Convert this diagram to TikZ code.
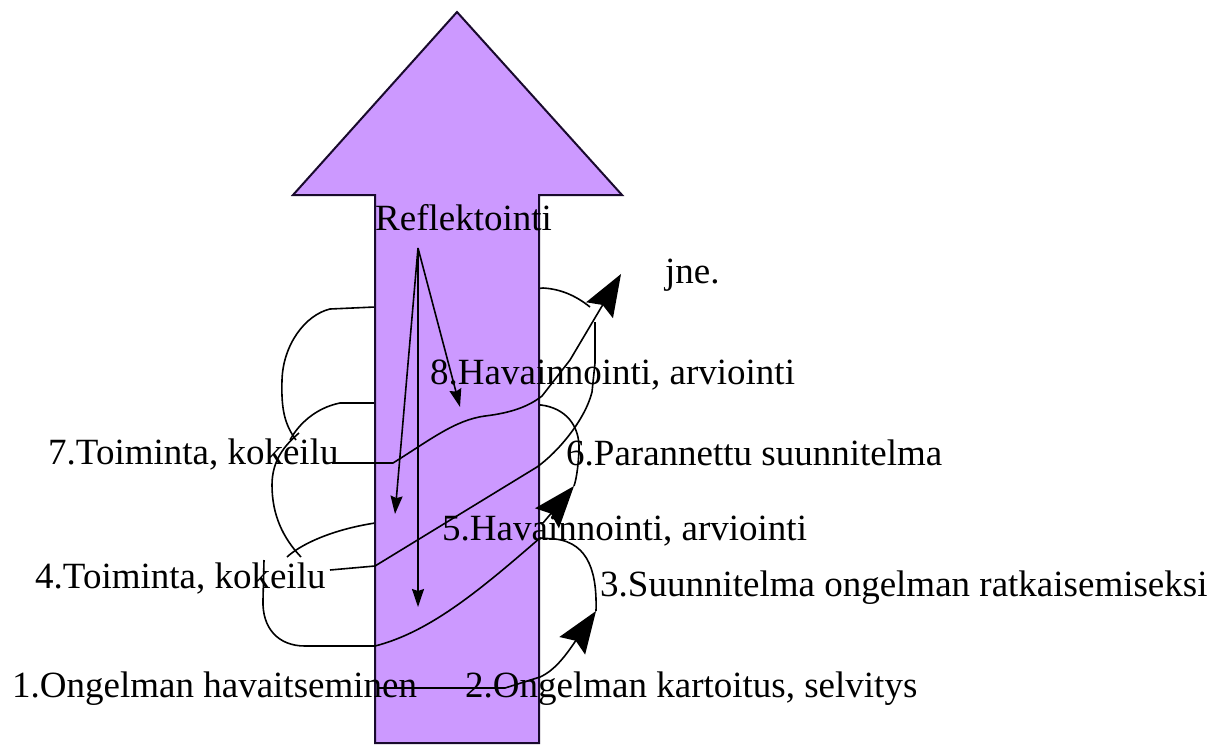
\documentclass[tikz,border=0pt]{standalone}
\usepackage{fontspec}
\setmainfont{Liberation Serif}
\usetikzlibrary{arrows.meta}
\definecolor{arrowfill}{RGB}{204,153,255}
\definecolor{shapeline}{RGB}{25,10,45}
\begin{document}
\begin{tikzpicture}[x=1pt,y=-1pt,
  lbl/.style={anchor=base west,inner sep=0pt,font=\fontsize{37}{40}\selectfont},
  conn/.style={line width=1.6pt,draw=black},
  bigtip/.style={-{Stealth[length=42pt,width=31pt,inset=6pt]}},
  smalltip/.style={-{Stealth[length=18pt,width=12pt,inset=2pt]}},
  bigarrow/.style={draw=shapeline,line width=2pt,fill=arrowfill,line join=miter}]
\fill[white] (0,0) rectangle (1222,747);
\useasboundingbox (0,0) rectangle (1222,747);

% ---------- named points of the connectors ----------
\coordinate (apex) at (418,248);
\coordinate (r8) at (460,407);
\coordinate (r7) at (395,514);
\coordinate (r4) at (418,607);
\coordinate (s1) at (378,688);
\coordinate (a3) at (596,611);
\coordinate (e4) at (264,560);
\coordinate (s4) at (330,570);
\coordinate (a1base) at (595,322);
\coordinate (s7) at (332,463);
\coordinate (a1) at (621,274);
\coordinate (k7a) at (290,440);
\coordinate (k7b) at (296,440);
\coordinate (k7c) at (299,433);
\coordinate (k4a) at (301,557);
\coordinate (k4b) at (287,557);
\coordinate (a2base) at (543,523);
\coordinate (a2) at (574,486);
\coordinate (bl) at (590,307);

% ---------- connectors partly hidden behind the shaft ----------
\draw[conn] (k7b) .. controls (285,425) and (281,410) .. (282,380)
  .. controls (283,345) and (305,315) .. (330,309) -- (375,307) -- (543,288)
  .. controls (560,289) and (575,295) .. (bl);
\draw[conn] (k7a) .. controls (298,425) and (315,408) .. (340,403) -- (375,403) -- (541,405)
  .. controls (565,408) and (580,425) .. (579,450)
  .. controls (578,470) and (576,480) .. (a2);
\draw[conn] (k4b) .. controls (300,545) and (330,530) .. (375,523) -- (a2base);

% ---------- the big arrow ----------
\path[bigarrow] (375,743) -- (375,195) -- (293,195) -- (457,12) -- (622,195)
  -- (539,195) -- (539,743) -- cycle;

% ---------- visible connectors ----------
\draw[conn,bigtip] (s1) -- (505,688) -- (540,677)
  .. controls (556,670) and (568,652) .. (a3);
\draw[conn] (a3) .. controls (597,575) and (590,543) .. (555,539) -- (540,538)
  .. controls (480,590) and (430,632) .. (375,646) -- (305,646)
  .. controls (278,646) and (262,628) .. (263,600) -- (e4);
\draw[conn] (s4) -- (375,566) -- (537,467)
  .. controls (558,452) and (585,420) .. (592,392) -- (595,363) -- (a1base);
\draw[conn,bigtip] (s7) -- (393,463) .. controls (430,440) and (455,420) .. (485,416)
  .. controls (510,413) and (528,407) .. (542,396) -- (570,360) -- (a1);
\draw[conn] (k7c) .. controls (285,445) and (272,460) .. (272,485)
  .. controls (272,515) and (283,538) .. (k4a);
\draw[conn,bigtip] (a2base) -- (a2);
\draw[conn,smalltip] (apex) -- (r8);
\draw[conn,smalltip] (apex) -- (r7);
\draw[conn,smalltip] (apex) -- (r4);

% ---------- labels ----------
\node[lbl] (refl) at (375,230) {Reflektointi};
\node[lbl] (jne) at (665,283) {jne.};
\node[lbl] (l8) at (430,384) {8.Havainnointi, arviointi};
\node[lbl] (l7) at (48,464) {7.Toiminta, kokeilu};
\node[lbl] (l6) at (566,465) {6.Parannettu suunnitelma};
\node[lbl] (l5) at (442,540) {5.Havainnointi, arviointi};
\node[lbl] (l4) at (35,588) {4.Toiminta, kokeilu};
\node[lbl] (l3) at (600,596) {3.Suunnitelma ongelman ratkaisemiseksi};
\node[lbl] (l1) at (12,697) {1.Ongelman havaitseminen};
\node[lbl] (l2) at (465,697) {2.Ongelman kartoitus, selvitys};
\end{tikzpicture}
\end{document}
